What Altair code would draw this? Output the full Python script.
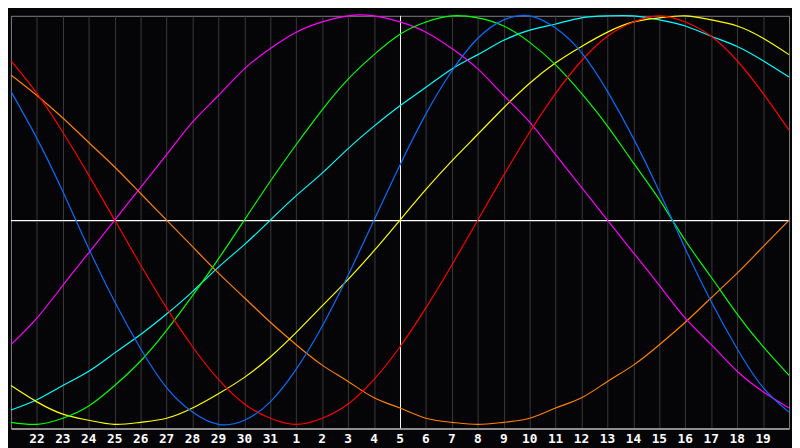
import altair as alt
import pandas as pd

# day index 0..30 (0 = the 21st, 30 = the 20th of the next month)
days = list(range(31))
label_days = list(range(1, 30))
tick_labels = ["22", "23", "24", "25", "26", "27", "28", "29", "30", "31",
               "1", "2", "3", "4", "5", "6", "7", "8", "9", "10",
               "11", "12", "13", "14", "15", "16", "17", "18", "19"]
today_index = 15

# values (percent, -100..100), one per day
physical = [63, 40, 14, -14, -40, -63, -82, -94, -100, -98, -89, -73, -52, -27, 0,
            27, 52, 73, 89, 98, 100, 94, 82, 63, 40, 14, -14, -40, -63, -82, -94]
emotional = [78, 62, 43, 22, 0, -22, -43, -62, -78, -90, -97, -100, -97, -90, -78,
             -62, -43, -22, 0, 22, 43, 62, 78, 90, 97, 100, 97, 90, 78, 62, 44]
intellectual = [-99, -100, -97, -91, -81, -69, -54, -37, -19, 0, 19, 37, 54, 69, 81,
                91, 97, 100, 99, 95, 87, 76, 62, 46, 28, 10, -10, -28, -46, -62, -76]
intuitive = [-61, -48, -32, -16, 0, 16, 32, 48, 61, 74, 84, 92, 97, 100, 100,
             97, 92, 84, 74, 61, 48, 32, 16, 0, -16, -32, -48, -61, -74, -84, -92]
aesthetic = [-81, -89, -95, -98, -100, -99, -97, -92, -85, -77, -67, -55, -42, -29, -15,
             0, 15, 29, 42, 55, 67, 77, 85, 92, 97, 99, 100, 98, 95, 89, 81]
awareness = [71, 61, 50, 38, 26, 13, 0, -13, -26, -38, -50, -61, -71, -79, -87,
             -92, -97, -99, -100, -99, -97, -92, -87, -79, -71, -61, -50, -38, -26, -13, 0]
spiritual = [-93, -88, -81, -74, -65, -56, -46, -35, -23, -12, 0, 12, 23, 35, 46,
             56, 65, 74, 81, 88, 93, 96, 99, 100, 100, 98, 95, 90, 85, 78, 70]

series_names = ["Spiritual", "Awareness", "Aesthetic", "Intuitive",
                "Intellectual", "Emotional", "Physical"]
series_values = [spiritual, awareness, aesthetic, intuitive,
                 intellectual, emotional, physical]
series_colors = ["#00ffff", "#ff8000", "#ffff00", "#ff00ff",
                 "#00ff00", "#ff0000", "#0a6cff"]

rows = []
for name, vals in zip(series_names, series_values):
    for d, v in zip(days, vals):
        rows.append({"day": d, "value": v, "cycle": name})
df = pd.DataFrame(rows)

labels_df = pd.DataFrame({"day": label_days, "label": tick_labels})
today_df = pd.DataFrame({"day": [today_index]})
zero_df = pd.DataFrame({"value": [0]})

x_scale = alt.Scale(domain=[0, 30], nice=False, zero=False)
y_scale = alt.Scale(domain=[-102, 100], nice=False, zero=False)

x_axis = alt.Axis(
    values=label_days,
    grid=True,
    gridColor="#3a3a3a",
    gridWidth=1,
    ticks=False,
    labels=False,
    domainColor="#a8a8a8",
    domainWidth=1.5,
    title=None,
)

rule_v = alt.Chart(today_df).mark_rule(color="#ffffff", strokeWidth=1, xOffset=0.5).encode(
    x=alt.X("day:Q", scale=x_scale, axis=x_axis),
)
rule_h = alt.Chart(zero_df).mark_rule(color="#ffffff", strokeWidth=1.3, yOffset=0.5).encode(
    y=alt.Y("value:Q", scale=y_scale, axis=None),
)

lines = alt.Chart(df).mark_line(strokeWidth=1.2, interpolate="natural").encode(
    x=alt.X("day:Q", scale=x_scale, axis=x_axis),
    y=alt.Y("value:Q", scale=y_scale, axis=None),
    color=alt.Color("cycle:N",
                    scale=alt.Scale(domain=series_names, range=series_colors),
                    legend=None),
    order=alt.Order("day:Q"),
    detail="cycle:N",
)

day_labels = alt.Chart(labels_df).mark_text(
    color="#ffffff",
    font="DejaVu Sans Mono",
    fontWeight="bold",
    fontSize=13,
    baseline="middle",
    align="center",
).encode(
    x=alt.X("day:Q", scale=x_scale, axis=x_axis),
    y=alt.value(431),
    text="label:N",
)

chart = alt.layer(rule_v, rule_h, lines, day_labels).properties(
    width=792,
    height=420,
    padding=0,
    background="#050508",
).configure_view(
    stroke="#808080",
    strokeWidth=1,
    fill="#050508",
)

chart.save("out.html", embed_options={"renderer": "svg", "actions": False})
